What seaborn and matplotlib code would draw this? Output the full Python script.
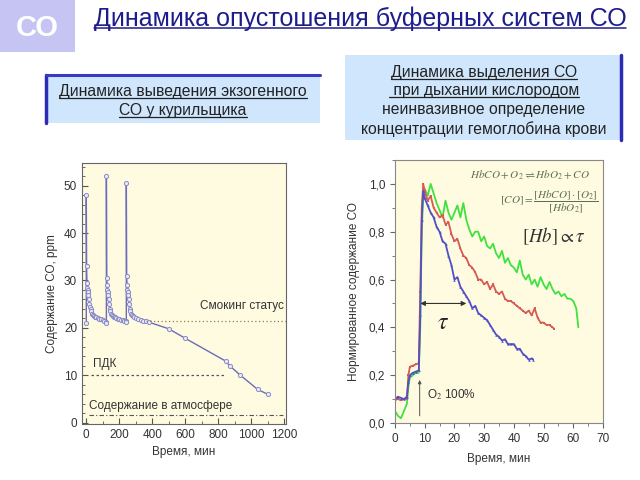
import matplotlib
matplotlib.use('Agg')
import matplotlib.pyplot as plt
import seaborn as sns
import pandas as pd
from matplotlib.patches import Rectangle
from matplotlib.lines import Line2D
from matplotlib.ticker import MultipleLocator, FuncFormatter

# ---------------- data ----------------
smoker_time = [0, 0, 2, 4, 6, 8, 10, 13, 16, 19, 22, 26, 30, 35, 40, 46, 52, 60, 70, 80, 90, 100, 110, 118,
               122, 122, 124, 126, 128, 130, 133, 136, 139, 142, 146, 150, 155, 160, 166, 172, 180, 190, 200,
               210, 220, 230, 238,
               243, 243, 245, 247, 249, 251, 254, 257, 260, 263, 267, 271, 276, 282, 290, 300, 315, 330, 345,
               360, 380, 500, 600, 845, 870, 935, 1040, 1100]
smoker_co = [21, 48, 33, 29.5, 28.5, 28, 27.5, 27, 26, 25, 24.5, 24, 23.5, 23, 22.8, 22.5, 22.3, 22.2, 22, 21.9,
             21.8, 21.7, 21.5, 21.3,
             21, 52, 30.5, 29, 28, 27.5, 27, 26, 25, 24, 23.5, 23, 22.7, 22.5, 22.3, 22.2, 22, 21.9, 21.8,
             21.7, 21.6, 21.5, 21.4,
             21.3, 50.5, 31, 29, 28, 27.5, 27, 26, 25, 24, 23.5, 23, 22.7, 22.5, 22.3, 22.1, 21.9, 21.7, 21.5,
             21.4, 21.2, 19.8, 17.8, 13, 12, 10, 7, 6]
smoking_status_level = 21.5
pdk_level = 10
atmosphere_level = 1.5

blue_time = [0, 1, 2, 3, 4, 4.5, 5, 6, 7, 8, 8.5, 9, 9.5, 10, 11, 12, 13, 14, 15, 16, 17, 18, 19, 20, 21, 22,
             23, 24, 25, 26, 27, 28, 29, 30, 31, 32, 33, 34, 35, 36, 37, 38, 39, 40, 41, 42, 43, 44, 45, 46, 46.5]
blue_val = [0.10, 0.11, 0.105, 0.10, 0.11, 0.17, 0.20, 0.21, 0.215, 0.22, 0.45, 0.85, 0.97, 0.94, 0.91, 0.88,
            0.86, 0.82, 0.80, 0.76, 0.75, 0.70, 0.66, 0.60, 0.61, 0.57, 0.55, 0.53, 0.51, 0.48, 0.49, 0.46, 0.45,
            0.44, 0.43, 0.41, 0.39, 0.37, 0.36, 0.345, 0.35, 0.33, 0.33, 0.33, 0.31, 0.31, 0.29, 0.28, 0.265,
            0.27, 0.265]

red_time = [0, 1, 2, 3, 4, 4.5, 5, 6, 7, 8, 8.5, 9, 9.5, 10, 11, 12, 13, 14, 15, 16, 17, 18, 19, 20, 21, 22,
            23, 24, 25, 26, 27, 28, 29, 30, 31, 32, 33, 34, 35, 36, 37, 38, 39, 40, 41, 42, 43, 44, 45, 46, 47,
            48, 49, 50, 51, 52, 53, 53.5]
red_val = [0.10, 0.10, 0.095, 0.10, 0.10, 0.20, 0.235, 0.24, 0.245, 0.25, 0.55, 0.90, 1.0, 0.97, 0.93, 0.95,
           0.90, 0.88, 0.86, 0.87, 0.83, 0.84, 0.79, 0.76, 0.77, 0.73, 0.70, 0.69, 0.66, 0.65, 0.63, 0.60, 0.60,
           0.58, 0.59, 0.56, 0.58, 0.55, 0.54, 0.55, 0.52, 0.51, 0.51, 0.50, 0.49, 0.48, 0.47, 0.46, 0.47, 0.45,
           0.48, 0.44, 0.42, 0.42, 0.41, 0.41, 0.40, 0.395]

green_time = [0, 1, 2, 3, 4, 4.5, 5, 6, 7, 8, 8.5, 9, 9.5, 10, 11, 12, 13, 14, 15, 16, 17, 18, 19, 20, 21, 22,
              23, 24, 25, 26, 27, 28, 29, 30, 31, 32, 33, 34, 35, 36, 37, 38, 39, 40, 41, 42, 43, 44, 45, 46,
              47, 48, 49, 50, 51, 52, 53, 54, 55, 56, 57, 58, 59, 60, 61, 61.7]
green_val = [0.05, 0.03, 0.02, 0.05, 0.08, 0.15, 0.19, 0.20, 0.21, 0.21, 0.40, 0.80, 0.95, 0.98, 0.95, 1.0,
             0.96, 0.92, 0.89, 0.86, 0.93, 0.88, 0.85, 0.88, 0.91, 0.86, 0.92, 0.85, 0.81, 0.78, 0.80, 0.80,
             0.76, 0.78, 0.74, 0.73, 0.75, 0.71, 0.69, 0.72, 0.67, 0.69, 0.66, 0.65, 0.63, 0.68, 0.62, 0.60,
             0.62, 0.58, 0.60, 0.57, 0.61, 0.58, 0.56, 0.59, 0.56, 0.54, 0.55, 0.53, 0.54, 0.52, 0.52, 0.51,
             0.48, 0.40]

tau_start, tau_end, tau_level = 8.5, 24, 0.5

# ---------------- style ----------------
sns.set_style('ticks')
plt.rcParams['font.family'] = ['Liberation Sans', 'DejaVu Sans']
plt.rcParams['mathtext.fontset'] = 'stix'

W, H = 640, 480
fig = plt.figure(figsize=(6.4, 4.8), dpi=100)
fig.patch.set_facecolor('white')
PANEL = '#FEFBE0'
TXT = '#333333'


def fx(x):
    return x / W


def fy(y):
    return 1 - y / H


renderer = fig.canvas.get_renderer()


def put_text(x, y, s, underline=False, color='#222222', size=10, ha='center', lw=0.9):
    t = fig.text(fx(x), fy(y), s, ha=ha, va='baseline', color=color, fontsize=size)
    if underline:
        bb = t.get_window_extent(renderer=renderer)
        yy = fy(y + 2.2)
        fig.add_artist(Line2D([bb.x0 / W, bb.x1 / W], [yy, yy], color=color, lw=lw,
                              transform=fig.transFigure))
    return t


# "CO" square
fig.add_artist(Rectangle((0, fy(52)), fx(75), 52 / H, transform=fig.transFigure,
                         facecolor='#C6C4F3', edgecolor='none', zorder=0))
fig.text(fx(37), fy(28), 'СО', ha='center', va='center', color='white', fontsize=21, fontweight='bold')

# title
put_text(360, 26, 'Динамика опустошения буферных систем СО', underline=True, color='#1C1C8C', size=18,
         lw=1.1)

# left subtitle box
fig.add_artist(Rectangle((fx(45), fy(123)), fx(275), 49 / H, transform=fig.transFigure,
                         facecolor='#CFE6FC', edgecolor='none', zorder=0))
fig.add_artist(Line2D([fx(46), fx(46)], [fy(123), fy(75)], color='#2B2BB5', lw=2.5,
                      transform=fig.transFigure))
fig.add_artist(Line2D([fx(46), fx(320)], [fy(75), fy(75)], color='#3A3AC0', lw=2.2,
                      transform=fig.transFigure))
put_text(183, 96, 'Динамика выведения экзогенного', underline=True, size=11.3)
put_text(183, 115, 'СО у курильщика', underline=True, size=11.3)

# right subtitle box
fig.add_artist(Rectangle((fx(345), fy(140)), fx(277), 85 / H, transform=fig.transFigure,
                         facecolor='#CFE6FC', edgecolor='none', zorder=0))
fig.add_artist(Line2D([fx(621), fx(621)], [fy(140), fy(55)], color='#2B2BB5', lw=2.5,
                      transform=fig.transFigure))
put_text(484, 77, 'Динамика выделения СО', underline=True, size=11.3)
put_text(484, 95, ' при дыхании кислородом', underline=True, size=11.3)
put_text(484, 114, 'неинвазивное определение', size=11.3)
put_text(484, 134, 'концентрации гемоглобина крови', size=11.3)

# ---------------- left chart ----------------
axL = fig.add_axes([fx(82), fy(424), fx(286 - 82), (424 - 163) / H])
axL.set_facecolor(PANEL)
dfL = pd.DataFrame({'t': smoker_time, 'co': smoker_co})
sns.lineplot(data=dfL, x='t', y='co', ax=axL, sort=False, estimator=None, color='#6C6CB8', lw=1.0,
             marker='o', markersize=3.0, markerfacecolor='#ECEAF6', markeredgecolor='#8A8AC8',
             markeredgewidth=0.7)
axL.hlines(smoking_status_level, 360, 1210, color='#8C7E5A', lw=0.9, linestyles=(0, (1, 2)))
axL.hlines(pdk_level, 30, 840, color='#555555', lw=0.9, linestyles=(0, (2, 2)))
axL.hlines(atmosphere_level, 15, 1195, color='#555555', lw=0.8, linestyles=(0, (4, 2, 1, 2)))
axL.text(690, 23.3, 'Смокинг статус', fontsize=8.5, color=TXT, va='bottom')
axL.text(40, 11.2, 'ПДК', fontsize=8.5, color=TXT, va='bottom')
axL.text(15, 2.3, 'Содержание в атмосфере', fontsize=8.5, color=TXT, va='bottom')
axL.set_xlim(-26, 1212)
axL.set_ylim(-0.3, 54.8)
axL.xaxis.set_major_locator(MultipleLocator(200))
axL.xaxis.set_minor_locator(MultipleLocator(100))
axL.yaxis.set_major_locator(MultipleLocator(10))
axL.yaxis.set_minor_locator(MultipleLocator(2))
axL.tick_params(which='both', direction='in', color='#555555', labelsize=8.5, labelcolor=TXT)
axL.tick_params(which='major', length=4)
axL.tick_params(which='minor', length=2)
for s in axL.spines.values():
    s.set_color('#666666')
    s.set_linewidth(0.8)
axL.set_xlabel('Время, мин', fontsize=8.5, color=TXT, labelpad=4)
axL.set_ylabel('Содержание СО, ppm', fontsize=8.5, color=TXT, labelpad=4)

# ---------------- right chart ----------------
axR = fig.add_axes([fx(395), fy(423), fx(603 - 395), (423 - 160) / H])
axR.set_facecolor(PANEL)
series = [
    (green_time, green_val, '#3FE23F', None),
    (red_time, red_val, '#D85A55', 's'),
    (blue_time, blue_val, '#5050C8', '^'),
]
for tt, vv, col, mk in series:
    d = pd.DataFrame({'t': tt, 'v': vv})
    kw = {}
    if mk:
        kw = dict(marker=mk, markersize=1.8, markeredgewidth=0, markerfacecolor=col)
    sns.lineplot(data=d, x='t', y='v', ax=axR, sort=False, estimator=None, color=col, lw=1.3, **kw)

axR.annotate('', xy=(tau_end, tau_level), xytext=(tau_start, tau_level),
             arrowprops=dict(arrowstyle='<|-|>', color='#333333', lw=0.8, mutation_scale=7,
                             shrinkA=0, shrinkB=0))
axR.text(16, 0.42, r'$\tau$', fontsize=17, ha='center', va='center', color='#222222')
axR.annotate('', xy=(8.3, 0.18), xytext=(8.3, 0.03),
             arrowprops=dict(arrowstyle='-|>', color='#555555', lw=0.7, mutation_scale=5,
                             shrinkA=0, shrinkB=0))
axR.text(10.8, 0.12, r'O$_2$ 100%', fontsize=8.5, color=TXT, va='center')
axR.text(45.5, 1.035, r'$HbCO + O_2 \rightleftharpoons HbO_2 + CO$', fontsize=8, color='#5E6E56',
         ha='center', va='center')
axR.text(52, 0.925, r'$[CO]=\dfrac{[HbCO]\cdot[O_2]}{[HbO_2]}$', fontsize=8, color='#5E6E56',
         ha='center', va='center')
axR.text(53.5, 0.78, r'$[Hb]\propto\tau$', fontsize=13.5, color='#333333', ha='center', va='center')

axR.set_xlim(0, 70)
axR.set_ylim(0, 1.1)
axR.xaxis.set_major_locator(MultipleLocator(10))
axR.xaxis.set_minor_locator(MultipleLocator(5))
axR.yaxis.set_major_locator(MultipleLocator(0.2))
axR.yaxis.set_minor_locator(MultipleLocator(0.1))
axR.yaxis.set_major_formatter(FuncFormatter(lambda v, p: f'{v:.1f}'.replace('.', ',')))
axR.tick_params(which='both', direction='out', color='#666666', labelsize=8.5, labelcolor=TXT)
axR.tick_params(which='major', length=3.5)
axR.tick_params(which='minor', length=2)
for s in axR.spines.values():
    s.set_color('#888888')
    s.set_linewidth(0.8)
axR.set_xlabel('Время, мин', fontsize=8.5, color=TXT, labelpad=6)
axR.set_ylabel('Нормированное содержание СО', fontsize=8.5, color=TXT, labelpad=6)

fig.savefig('out.png', dpi=100)
